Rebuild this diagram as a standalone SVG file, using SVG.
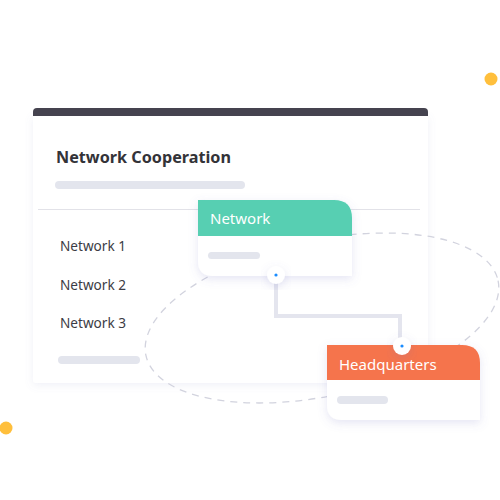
<svg xmlns="http://www.w3.org/2000/svg" width="500" height="500" viewBox="0 0 500 500">
<defs>
<style>
.t{font-family:"Noto Sans","Open Sans","Liberation Sans",sans-serif}
.bar{fill:#e3e5ed}
.item{font-size:13.6px;fill:#3c3c44}
.hd{font-size:15px;fill:#ffffff}
</style>
<filter id="sh" x="-20%" y="-20%" width="140%" height="140%">
<feDropShadow dx="0" dy="2" stdDeviation="4" flood-color="#7b7fc0" flood-opacity="0.12"/>
</filter>
<filter id="sh2" x="-30%" y="-30%" width="160%" height="160%">
<feDropShadow dx="0" dy="3" stdDeviation="5" flood-color="#6a70c0" flood-opacity="0.18"/>
</filter>
</defs>
<rect width="500" height="500" fill="#ffffff"/>
<circle cx="491" cy="79" r="6.5" fill="#ffbf3c"/>
<circle cx="6" cy="428" r="6.5" fill="#ffbf3c"/>
<g id="card">
<path d="M33,116 H428 V380 Q428,383 425,383 H36 Q33,383 33,380 Z" fill="#ffffff" filter="url(#sh)"/>
<path d="M33,116 V112 Q33,108 37,108 H424 Q428,108 428,112 V116 Z" fill="#45434f"/>
<text class="t" x="56" y="163" font-size="16.2" font-weight="bold" fill="#333338">Network Cooperation</text>
<rect class="bar" x="55" y="181" width="190" height="8" rx="4"/>
<line x1="38" y1="209.5" x2="420" y2="209.5" stroke="#e2e2e8" stroke-width="1"/>
<text class="t item" x="60" y="251">Network 1</text>
<text class="t item" x="60" y="290">Network 2</text>
<text class="t item" x="60" y="328">Network 3</text>
<rect class="bar" x="58" y="356" width="82" height="8" rx="4"/>
</g>
<ellipse cx="322" cy="318" rx="180" ry="78" transform="rotate(-12 322 318)" fill="none" stroke="#d2d3de" stroke-width="1.3" stroke-dasharray="7 6"/>
<g id="connectors">
<path d="M276,275 V316 H400 V346" fill="none" stroke="#e4e5ee" stroke-width="4"/>
</g>
<g id="network">
<path d="M198,200 H334 Q352,200 352,218 V276 H213 Q198,276 198,261 Z" fill="#ffffff" filter="url(#sh2)"/>
<path d="M198,200 H334 Q352,200 352,218 V236 H198 Z" fill="#57cfb2"/>
<text class="t hd" x="210" y="224">Network</text>
<rect class="bar" x="208" y="252" width="52" height="7" rx="3.5"/>
<circle cx="276" cy="275" r="9" fill="#ffffff" filter="url(#sh2)"/>
<circle cx="276" cy="275" r="1.6" fill="#1a8cff"/>
</g>
<g id="headquarters">
<path d="M327,345 H462 Q480,345 480,363 V420 H342 Q327,420 327,405 Z" fill="#ffffff" filter="url(#sh2)"/>
<path d="M327,345 H462 Q480,345 480,363 V380 H327 Z" fill="#f5744c"/>
<text class="t hd" x="339" y="370">Headquarters</text>
<rect class="bar" x="337" y="396" width="51" height="8" rx="4"/>
<circle cx="402" cy="346" r="9" fill="#ffffff" filter="url(#sh2)"/>
<circle cx="402" cy="346" r="1.6" fill="#1a8cff"/>
</g>
</svg>
